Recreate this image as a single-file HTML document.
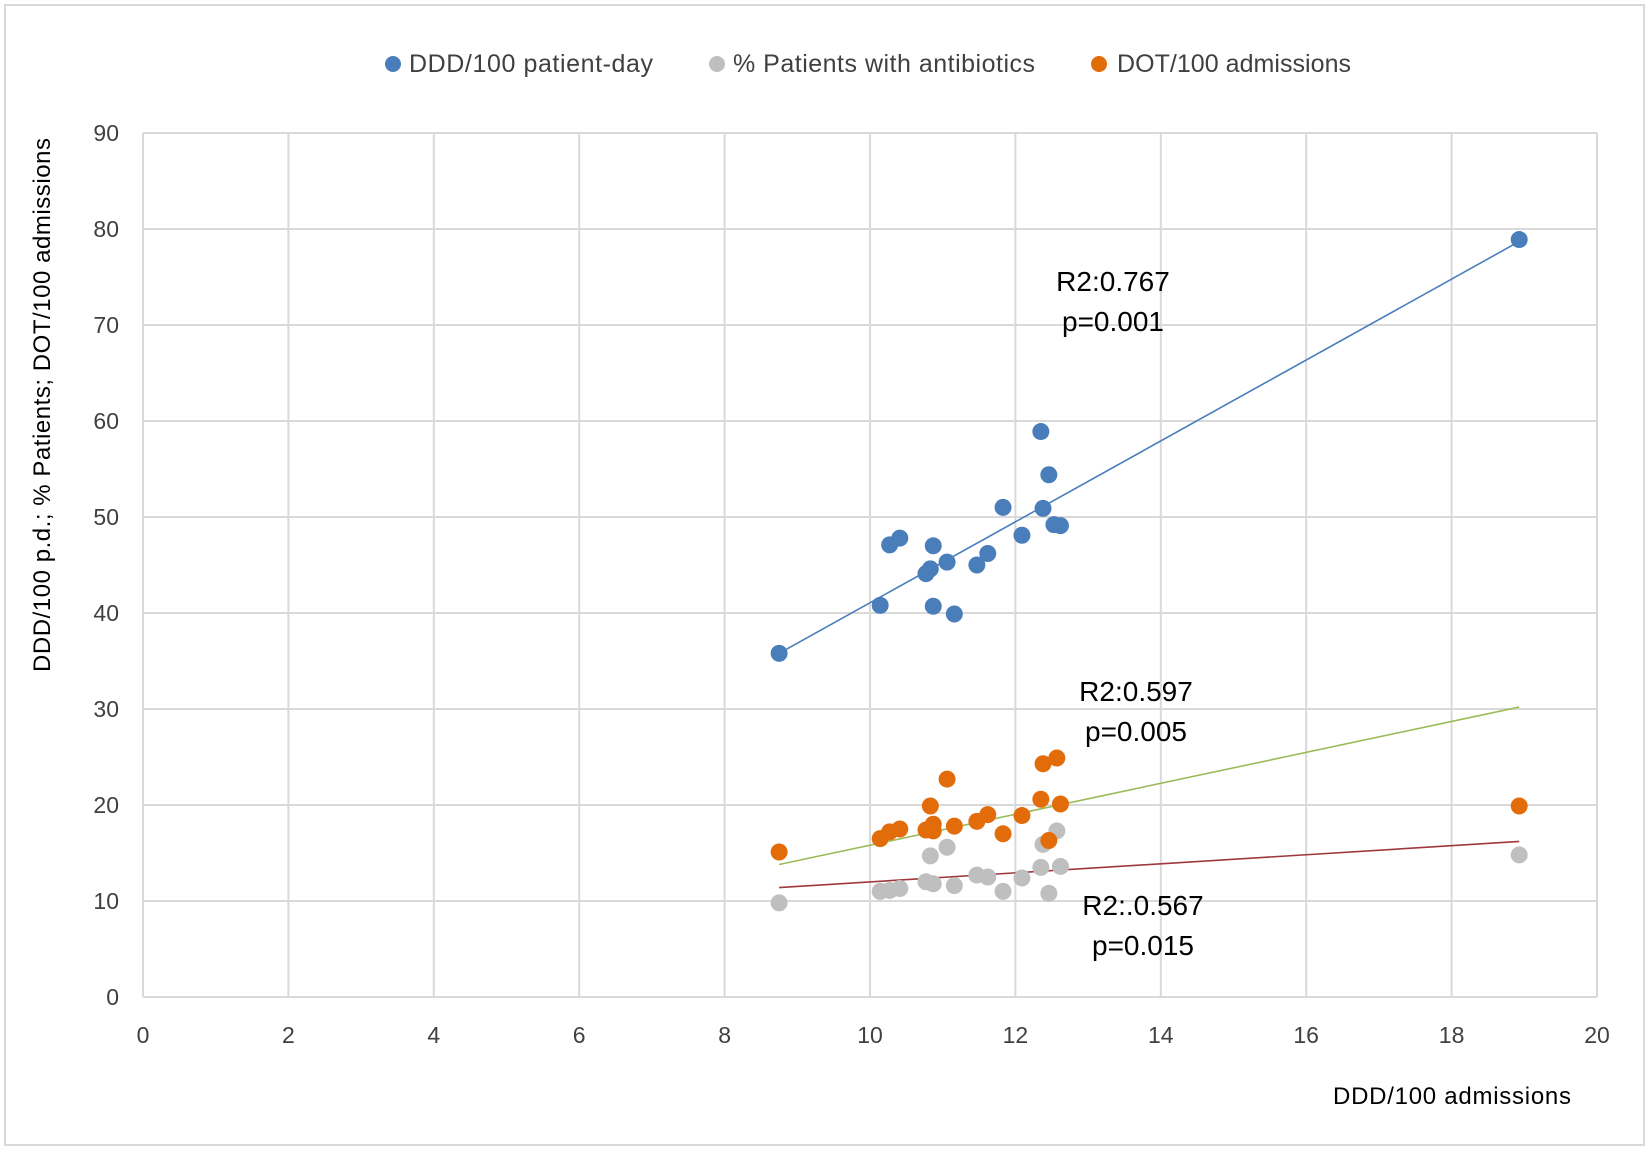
<!DOCTYPE html>
<html><head><meta charset="utf-8"><style>
body{margin:0;background:#fff;}
svg text{font-family:"Liberation Sans",sans-serif;fill:#404040;}
</style></head><body>
<svg id="chart" width="1649" height="1150">
<rect x="5" y="5" width="1639" height="1140" fill="#fff" stroke="#d9d9d9" stroke-width="2"/>
<g id="grid"></g><g id="lines"></g><g id="marks"></g><g id="ticks"></g>
<g>
<circle cx="393" cy="64" r="8" fill="#4a7ebb"/><text x="409" y="72" font-size="25" textLength="244">DDD/100 patient-day</text>
<circle cx="717" cy="64" r="8" fill="#bfbfbf"/><text x="733" y="72" font-size="25" textLength="302">% Patients with antibiotics</text>
<circle cx="1099" cy="64" r="8" fill="#e36c0a"/><text x="1117" y="72" font-size="25" textLength="234">DOT/100 admissions</text>
</g>
<text transform="translate(50,405) rotate(-90)" text-anchor="middle" font-size="24" textLength="534" style="fill:#000">DDD/100 p.d.; % Patients; DOT/100 admissions</text>
<text x="1333" y="1104" font-size="24" textLength="238" style="fill:#000">DDD/100 admissions</text>
<g font-size="28" text-anchor="middle">
<text x="1113" y="291" style="fill:#000">R2:0.767</text>
<text x="1113" y="331" style="fill:#000">p=0.001</text>
<text x="1136" y="701" style="fill:#000">R2:0.597</text>
<text x="1136" y="741" style="fill:#000">p=0.005</text>
<text x="1143" y="915" style="fill:#000">R2:.0.567</text>
<text x="1143" y="955" style="fill:#000">p=0.015</text>
</g>
</svg>
<script>
const xTicks=[0,2,4,6,8,10,12,14,16,18,20];
const yTicks=[0,10,20,30,40,50,60,70,80,90];
const dddX=[8.75,10.14,10.27,10.41,10.77,10.83,10.87,10.87,11.06,11.16,11.47,11.62,11.83,12.09,12.35,12.38,12.46,12.53,12.62,18.93];
const dddY=[35.8,40.8,47.1,47.8,44.1,44.6,47.0,40.7,45.3,39.9,45.0,46.2,51.0,48.1,58.9,50.9,54.4,49.2,49.1,78.9];
const dotX=[8.75,10.14,10.27,10.41,10.77,10.83,10.87,10.87,11.06,11.16,11.47,11.62,11.83,12.09,12.35,12.38,12.46,12.57,12.62,18.93];
const dotY=[15.1,16.5,17.2,17.5,17.4,19.9,18.0,17.3,22.7,17.8,18.3,19.0,17.0,18.9,20.6,24.3,16.3,24.9,20.1,19.9];
const pctX=[8.75,10.14,10.27,10.41,10.77,10.83,10.87,11.06,11.16,11.47,11.62,11.83,12.09,12.35,12.38,12.46,12.57,12.62,18.93];
const pctY=[9.8,11.0,11.1,11.3,12.0,14.7,11.8,15.6,11.6,12.7,12.5,11.0,12.4,13.5,15.9,10.8,17.3,13.6,14.8];
// trendline values (y at x-start, y at x-end) as shown in the chart
const trendX=[8.75,18.93];
const dddTrend=[35.8,78.7];
const dotTrend=[13.8,30.2];
const pctTrend=[11.4,16.2];
const L=143,R=1597,T=133,B=997;
const sx=v=>L+(v-0)/20*(R-L), sy=v=>B-(v/90)*(B-T);
const NS="http://www.w3.org/2000/svg";
function mk(tag,attrs,parent){const e=document.createElementNS(NS,tag);for(const k in attrs)e.setAttribute(k,attrs[k]);document.getElementById(parent).appendChild(e);return e;}
xTicks.forEach(t=>{
 const g=mk('line',{x1:sx(t),x2:sx(t),y1:T,y2:B,stroke:'#d9d9d9','stroke-width':2},'grid');
 
 
 const l=mk('text',{x:sx(t),y:B+46,'text-anchor':'middle','font-size':23},'ticks');l.textContent=t;
 
 
});
yTicks.forEach(t=>{
 const g=mk('line',{x1:L,x2:R,y1:sy(t),y2:sy(t),stroke:'#d9d9d9','stroke-width':2},'grid');
 
 
 const l=mk('text',{x:L-24,y:sy(t)+8,'text-anchor':'end','font-size':23},'ticks');l.textContent=t;
 
 
});
function trend(ys,color,name){
 const e=mk('line',{x1:sx(trendX[0]),y1:sy(ys[0]),x2:sx(trendX[1]),y2:sy(ys[1]),stroke:color,'stroke-width':1.6},'lines');
 
 
}
trend(dddTrend,'#4a7ebb','trendline-ddd');
trend(dotTrend,'#9bbb59','trendline-dot');
trend(pctTrend,'#a0383b','trendline-pct');
function pts(xs,ys,color,name){xs.forEach((x,i)=>{
 const c=mk('circle',{cx:sx(x),cy:sy(ys[i]),r:8.5,fill:color},'marks');
 
 
});}
pts(pctX,pctY,'#bfbfbf','point-pct-patients');
pts(dotX,dotY,'#e36c0a','point-dot-admissions');
pts(dddX,dddY,'#4a7ebb','point-ddd-patient-day');
</script>
</body></html>
